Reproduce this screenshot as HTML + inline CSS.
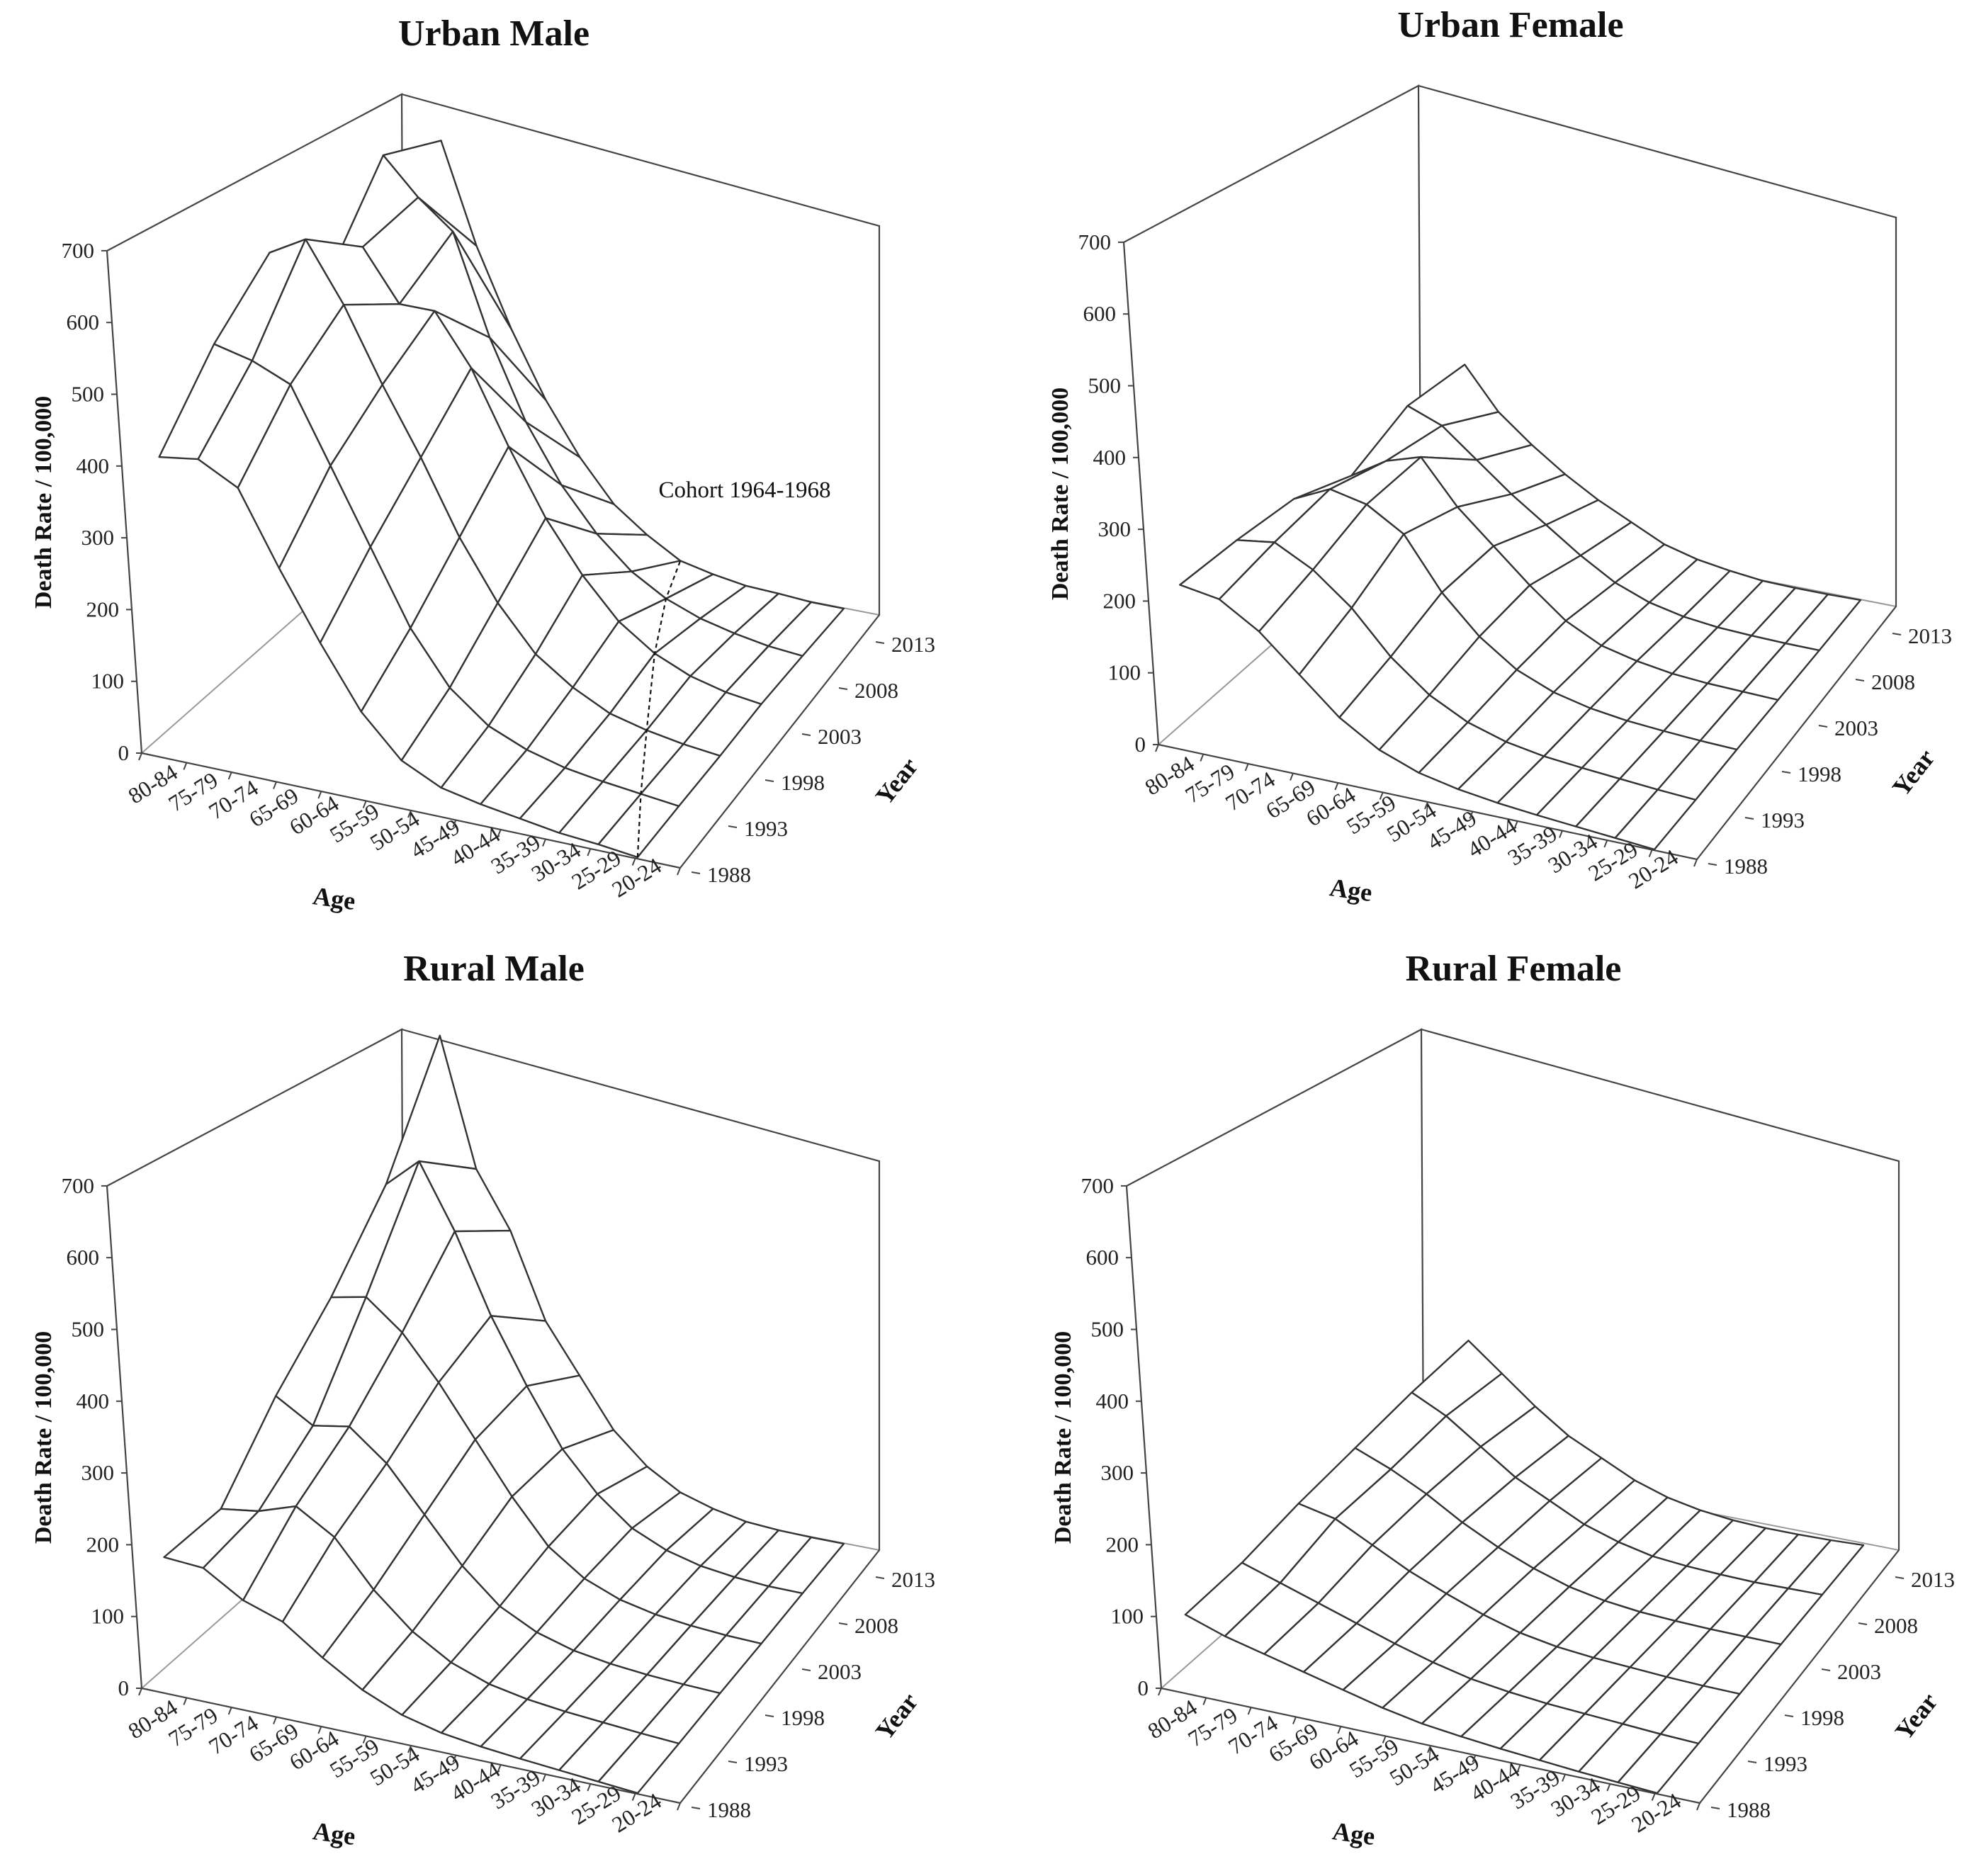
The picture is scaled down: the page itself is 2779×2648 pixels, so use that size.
<!DOCTYPE html>
<html><head><meta charset="utf-8">
<style>
html,body{margin:0;padding:0;background:#fff;}
svg{display:block;font-family:"Liberation Serif",serif;}
</style></head>
<body>
<svg id="chart" width="2779" height="2648" viewBox="0 0 2779 2648" xmlns="http://www.w3.org/2000/svg">
<rect width="2779" height="2648" fill="#fff"/>
</svg>
<script>
const ageLabels = ["80-84","75-79","70-74","65-69","60-64","55-59","50-54","45-49","40-44","35-39","30-34","25-29","20-24"];
const yearLabels = ["1988","1993","1998","2003","2008","2013"];
const zTicks = [0,100,200,300,400,500,600,700];
const urbanMale = [
 [380,392,367,270,181,100,47,24,16,11,6,5,2],
 [490,480,460,360,260,160,90,50,30,18,12,8,4],
 [570,600,520,420,330,230,150,90,55,30,18,10,5],
 [490,540,470,470,400,300,210,140,85,50,28,15,8],
 [611,560,520,380,270,190,130,85,55,35,22,12,6],
 [584,443,333,240,166,107,70,40,27,17,12,6,3]
];
const urbanFemale = [
 [190,185,155,110,65,35,18,10,6,4,3,2,1],
 [205,215,190,150,95,55,30,16,9,6,4,2,1],
 [215,240,230,200,130,80,45,25,14,8,5,3,2],
 [200,230,245,185,140,95,55,30,18,10,6,4,2],
 [250,230,190,150,115,80,50,30,18,11,7,4,2],
 [260,200,160,125,95,70,45,30,20,12,8,5,3]
];
const ruralMale = [
 [150,150,120,105,70,40,20,10,6,4,3,2,1],
 [170,180,200,170,110,65,35,18,10,6,4,2,1],
 [280,250,260,220,160,100,55,30,16,9,5,3,2],
 [370,380,340,280,210,140,80,45,25,14,8,4,2],
 [480,520,430,320,230,150,95,55,32,18,10,5,3],
 [640,460,380,260,190,120,75,45,28,16,10,6,3]
];
const ruralFemale = [
 [70,55,45,35,25,15,8,5,3,2,1,1,1],
 [95,80,65,50,35,22,12,7,4,3,2,1,1],
 [130,120,95,70,50,32,18,10,6,4,2,1,1],
 [160,140,115,85,60,40,24,14,8,5,3,2,1],
 [190,165,130,95,70,45,28,16,10,6,3,2,1],
 [215,175,135,100,75,50,32,20,12,7,4,2,1]
];
const panelTitles = ["Urban Male","Urban Female","Rural Male","Rural Female"];
const panelData = [urbanMale, urbanFemale, ruralMale, ruralFemale];
const panelOffsets = [[0,0],[1435,-12],[0,1320],[1439,1320]];
const panelNames = ["urban-male","urban-female","rural-male","rural-female"];

const NS = "http://www.w3.org/2000/svg";
const svg = document.getElementById("chart");
function mk(tag, attrs, parent){
  const e = document.createElementNS(NS, tag);
  for (const k in attrs) e.setAttribute(k, attrs[k]);
  parent.appendChild(e); return e;
}
const F00=[236,1030], F10=[900,1212], F01=[640,790], F11=[1191,862];
const zS = 1.013, zX = -0.03;
function proj(ai, yi, v){
  const u = ai/(ageLabels.length-1), w = yi/(yearLabels.length-1);
  const fx = (1-u)*(1-w)*F00[0] + u*(1-w)*F10[0] + (1-u)*w*F01[0] + u*w*F11[0];
  const fy = (1-u)*(1-w)*F00[1] + u*(1-w)*F10[1] + (1-u)*w*F01[1] + u*w*F11[1];
  return [fx + zX*v, fy - zS*v];
}
function zPos(v){ return [200 - 0.07*v, 1063 - zS*v]; }

panelData.forEach((data, p) => {
  const g = mk("g", {transform:`translate(${panelOffsets[p][0]},${panelOffsets[p][1]})`}, svg);
  
  
  const box = mk("g", {fill:"none"}, g);
  
  
  mk("path",{d:"M200,1063 L570,737 L1241,868", stroke:"#999", "stroke-width":2}, box);
  mk("path",{d:"M200,1063 L151,354 L567,133 L570,737 M567,133 L1241,319 L1241,868 L960,1225 L200,1063", stroke:"#444", "stroke-width":2.2}, box);
  zTicks.forEach(t => {
    const [x,y] = zPos(t);
    const tl = mk("line",{x1:x-8,y1:y,x2:x,y2:y,stroke:"#444","stroke-width":2}, g);
    
    
    const tx = mk("text",{x:x-18,y:y+10,"text-anchor":"end","font-size":31,fill:"#222"}, g);
    
    
    tx.textContent = t;
  });
  ageLabels.forEach((lab, i) => {
    const ex = 253 + i*56.9, ey = 1096 + i*11;
    const tx = mk("text",{x:ex,y:ey,"text-anchor":"end","font-size":32,fill:"#222",transform:`rotate(-32 ${ex} ${ey})`}, g);
    
    
    tx.textContent = lab;
    const fx = 200 + i*(760/12), fy = 1063 + i*(162/12);
    const tk = mk("line",{x1:fx,y1:fy,x2:fx-4,y2:fy+10,stroke:"#444","stroke-width":2}, g);
    
    
  });
  yearLabels.forEach((lab, j) => {
    const lx = 998 + j*52, ly = 1245 - j*65;
    const tx = mk("text",{x:lx,y:ly,"font-size":31,fill:"#222"}, g);
    
    
    tx.textContent = lab;
    const tk = mk("line",{x1:lx-22,y1:ly-14,x2:lx-10,y2:ly-12,stroke:"#444","stroke-width":2}, g);
    
    
  });
  const at = mk("text",{x:470,y:1280,"text-anchor":"middle","font-size":36,"font-weight":"bold",fill:"#111",transform:"rotate(8 470 1280)"}, g);
  
  
  at.textContent = "Age";
  const yt = mk("text",{x:1275,y:1110,"text-anchor":"middle","font-size":36,"font-weight":"bold",fill:"#111",transform:"rotate(-52 1275 1110)"}, g);
  
  
  yt.textContent = "Year";
  const zt = mk("text",{x:72,y:709,"text-anchor":"middle","font-size":34,"font-weight":"bold",fill:"#111",transform:"rotate(-90 72 709)"}, g);
  
  
  zt.textContent = "Death Rate / 100,000";
  const tt = mk("text",{x:697,y:64,"text-anchor":"middle","font-size":52,"font-weight":"bold",fill:"#111"}, g);
  
  
  tt.textContent = panelTitles[p];
  const surf = mk("g",{fill:"#fff",stroke:"#333","stroke-width":2.4,"stroke-linejoin":"round"}, g);
  
  
  const nA = ageLabels.length, nY = yearLabels.length;
  const cells = [];
  for (let j=0;j<nY-1;j++) for (let i=0;i<nA-1;i++) cells.push([i,j]);
  cells.sort((a,b)=> (a[0]+(nY-2-a[1])) - (b[0]+(nY-2-b[1])));
  cells.forEach(([i,j])=>{
    const pts=[proj(i,j,data[j][i]),proj(i+1,j,data[j][i+1]),proj(i+1,j+1,data[j+1][i+1]),proj(i,j+1,data[j+1][i])];
    const c = mk("polygon",{points:pts.map(q=>q[0].toFixed(1)+","+q[1].toFixed(1)).join(" ")}, surf);
    
    
  });
  if (p===0){
    const cp=[];
    for (let j=0;j<nY;j++){ const i = nA-1-j; cp.push(proj(i,j,data[j][i])); }
    const cl = mk("polyline",{points:cp.map(q=>q[0].toFixed(1)+","+q[1].toFixed(1)).join(" "),fill:"none",stroke:"#111","stroke-width":2.2,"stroke-dasharray":"6,5"}, g);
    
    
    const ct = mk("text",{x:1051,y:702,"text-anchor":"middle","font-size":33,fill:"#111"}, g);
    
    
    ct.textContent = "Cohort 1964-1968";
  }
});
</script>
</body></html>
